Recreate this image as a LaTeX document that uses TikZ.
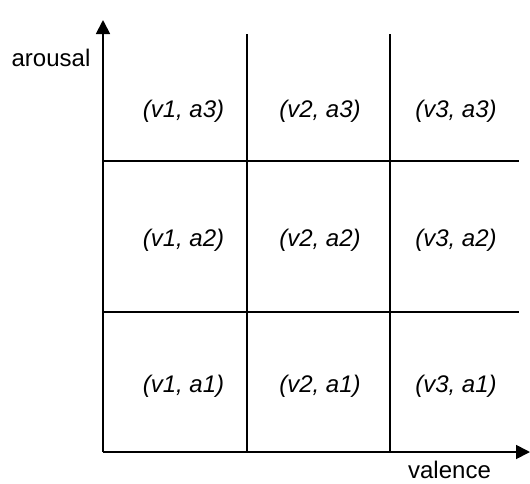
\documentclass[tikz,border=0pt]{standalone}
\usepackage{fontspec}
\setmainfont{Liberation Sans}
\usetikzlibrary{arrows.meta}
\begin{document}
\begin{tikzpicture}[x=1pt,y=-1pt,line width=1.8pt,
    axislabel/.style={font=\fontsize{24}{28}\selectfont,inner sep=1pt},
    cell/.style={font=\fontsize{24}{28}\selectfont\itshape},
    axis/.style={-{Triangle[length=14pt,width=14pt]}}]
      \useasboundingbox (0,0) rectangle (530,483);

      \coordinate (origin) at (103,452);
      \coordinate (ytop) at (103,20);
      \coordinate (xend) at (530,452);
      \draw[axis] (origin) -- (ytop);
      \draw[axis] (origin) -- (xend);

      \foreach \i/\x in {1/247,2/390}{
          \coordinate (vtop\i) at (\x,34);
          \coordinate (vbot\i) at (\x,452);
          \draw (vtop\i) -- (vbot\i);
      }
      \foreach \j/\y in {1/312,2/161}{
          \coordinate (hleft\j) at (103,\y);
          \coordinate (hright\j) at (519,\y);
          \draw (hleft\j) -- (hright\j);
      }

      \foreach \i/\x in {1/183.5,2/320,3/456}{
          \foreach \j/\y in {1/386,2/240,3/111}{
              \node[cell] (cell\i-\j) at (\x,\y) {(v\i, a\j)};
          }
      }
      \node[axislabel] (arousal) at (51,57.5) {arousal};
      \node[axislabel] (valence) at (449.5,469.5) {valence};

    \end{tikzpicture}
\end{document}
